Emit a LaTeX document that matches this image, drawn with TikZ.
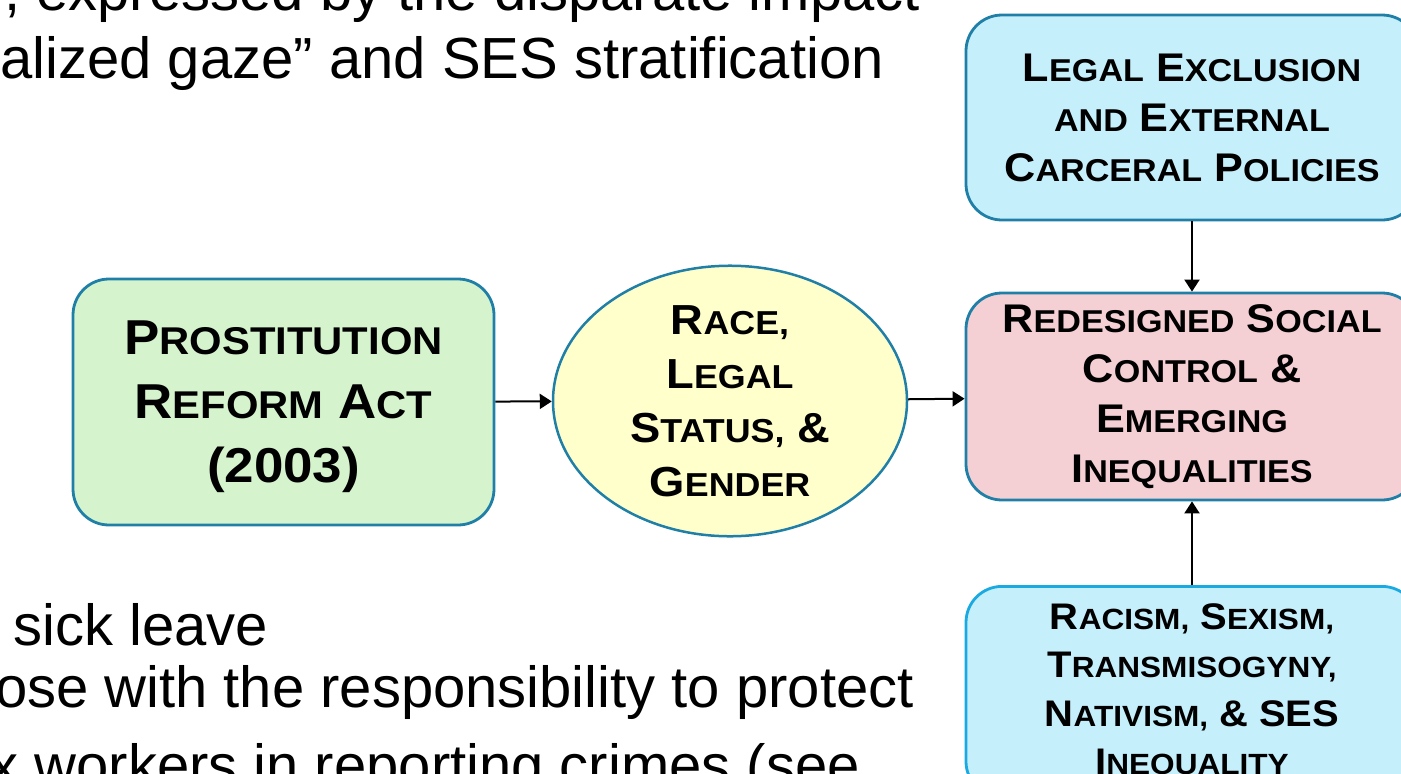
\documentclass[tikz,border=0pt]{standalone}
\usepackage{fontspec}
\setmainfont{Liberation Sans}
\newfontfamily\boxfont[FakeStretch=1.08]{Liberation Sans}
\usetikzlibrary{arrows.meta,shapes.geometric}
\definecolor{boxline}{HTML}{1F7FA7}
\definecolor{racismline}{HTML}{1AA9E0}
\definecolor{reformfill}{HTML}{D5F4CD}
\definecolor{axesfill}{HTML}{FFFFCC}
\definecolor{skyfill}{HTML}{C6EFFC}
\definecolor{redesignfill}{HTML}{F4CFD4}
% small capitals, made by hand
\makeatletter
\newcommand\lc[1]{{\@tempdima=0.79\dimexpr\f@size pt\relax%
  \fontsize{\strip@pt\@tempdima}{\f@baselineskip}\selectfont #1}}
\makeatother
\begin{document}
\begin{tikzpicture}[x=1pt,y=-1pt,
    slidetext/.style={font=\fontsize{58}{70}\selectfont,inner sep=0pt},
    box/.style={draw=boxline,line width=2.8pt,rounded corners=36pt,align=center,inner sep=0pt},
    conn/.style={line width=2pt,-{Triangle[length=12pt,width=15pt]}}]
  \useasboundingbox (0,0) rectangle (1401,774);
  \clip (0,0) rectangle (1401,774);
  % slide text behind the diagram
  \node (line1) at (920,10) [slidetext,anchor=base east] {, expressed by the disparate impact};
  \node (line2) at (884,78) [slidetext,anchor=base east] {alized gaze” and SES stratification};
  \node (line3) at (13,645) [slidetext,anchor=base west] {sick leave};
  \node (line4) at (914,707) [slidetext,anchor=base east] {ose with the responsibility to protect};
  \node (line5) at (860,785) [slidetext,anchor=base east] {x workers in reporting crimes (see};
  % diagram
  \node (reform) at (283.5,402) [box,fill=reformfill,minimum width=421pt,minimum height=246pt,
      text depth=0pt,font={\boxfont\bfseries\fontsize{49}{64}\selectfont}]
      {P\lc{ROSTITUTION}\\R\lc{EFORM} A\lc{CT}\\(2003)};
  \node (axes) at (730,401) [ellipse,draw=boxline,line width=2.5pt,fill=axesfill,
      minimum width=354pt,minimum height=240pt,inner sep=0pt,align=center,
      font={\boxfont\bfseries\fontsize{42}{54}\selectfont}]
      {R\lc{ACE,}\\L\lc{EGAL}\\S\lc{TATUS,} \&\\G\lc{ENDER}};
  \node (exclusion) at (1192,117.5) [box,fill=skyfill,minimum width=452pt,minimum height=205pt,
      font={\boxfont\bfseries\fontsize{40}{50}\selectfont}]
      {L\lc{EGAL} E\lc{XCLUSION}\\\lc{AND} E\lc{XTERNAL}\\C\lc{ARCERAL} P\lc{OLICIES}};
  \node (redesigned) at (1192,396.5) [box,fill=redesignfill,minimum width=452pt,minimum height=207pt,
      font={\boxfont\bfseries\fontsize{40}{50}\selectfont}]
      {R\lc{EDESIGNED} S\lc{OCIAL}\\C\lc{ONTROL} \&\\E\lc{MERGING}\\I\lc{NEQUALITIES}};
  \node (racism) at (1192,585) [box,draw=racismline,fill=skyfill,anchor=north,minimum width=452pt,
      inner ysep=17pt,font={\boxfont\bfseries\fontsize{37}{48.5}\selectfont}]
      {R\lc{ACISM,} S\lc{EXISM,}\\T\lc{RANSMISOGYNY,}\\N\lc{ATIVISM,} \& SES\\I\lc{NEQUALITY}};
  \draw[conn] (reform) -- (axes);
  \draw[conn] (axes) -- (redesigned);
  \draw[conn] (exclusion) -- (redesigned);
  \draw[conn] (racism) -- (redesigned);
\end{tikzpicture}
\end{document}
